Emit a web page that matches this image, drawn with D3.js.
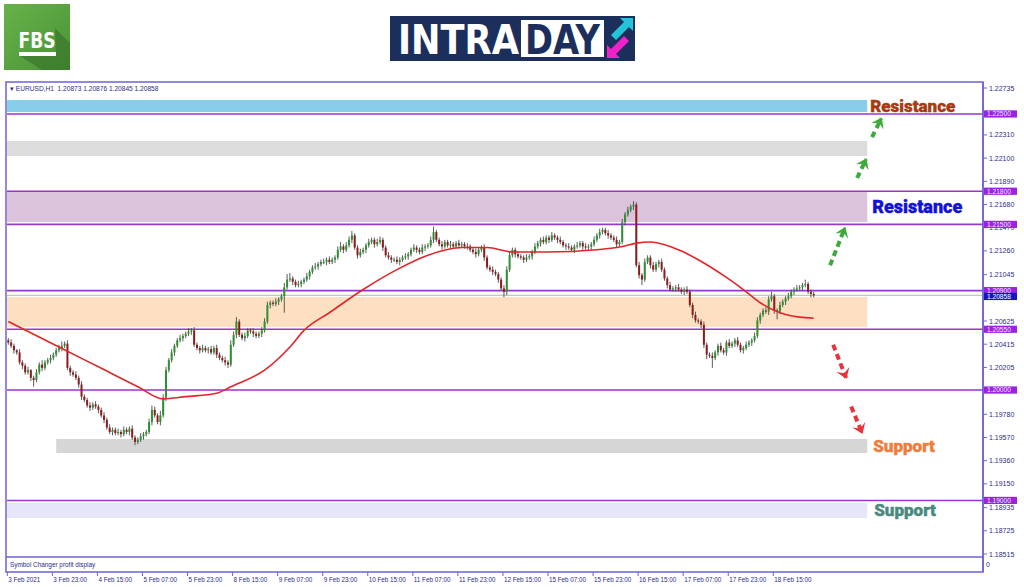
<!DOCTYPE html>
<html>
<head>
<meta charset="utf-8">
<script src="https://cdnjs.cloudflare.com/ajax/libs/d3/7.8.5/d3.min.js"></script>
<style>
  body { margin: 0; background: #fff; }
  svg { display: block; }
</style>
</head>
<body>
<div id="chart"></div>
<script>
var svgWidth = 1024;
var svgHeight = 587;

// EURUSD H1 bars, first bar 3 Feb 2021 07:00 (open = previous close)
var firstOpen = 1.2045;
var closes = [
  1.2043,1.2040,1.2036,1.2034,1.2025,1.2022,1.2016,1.2018,1.2011,1.2009,
  1.2016,1.2023,1.2020,1.2025,1.2027,1.2029,1.2032,1.2036,1.2038,1.2040,
  1.2042,1.2020,1.2016,1.2014,1.2011,1.2005,1.1994,1.1991,1.1986,1.1984,
  1.1987,1.1985,1.1982,1.1977,1.1973,1.1966,1.1962,1.1964,1.1961,1.1962,
  1.1960,1.1964,1.1962,1.1965,1.1957,1.1953,1.1955,1.1958,1.1960,1.1962,
  1.1971,1.1982,1.1977,1.1971,1.1977,1.1993,1.2018,1.2027,1.2034,1.2040,
  1.2045,1.2047,1.2049,1.2051,1.2053,1.2054,1.2041,1.2038,1.2036,1.2038,
  1.2036,1.2037,1.2034,1.2038,1.2032,1.2029,1.2027,1.2025,1.2023,1.2041,
  1.2050,1.2062,1.2050,1.2047,1.2049,1.2054,1.2053,1.2051,1.2049,1.2051,
  1.2054,1.2062,1.2077,1.2079,1.2078,1.2080,1.2082,1.2085,1.2093,1.2100,
  1.2101,1.2098,1.2095,1.2096,1.2098,1.2100,1.2103,1.2107,1.2111,1.2112,
  1.2114,1.2116,1.2116,1.2118,1.2116,1.2118,1.2120,1.2127,1.2130,1.2127,
  1.2131,1.2136,1.2140,1.2129,1.2122,1.2125,1.2127,1.2131,1.2134,1.2136,
  1.2132,1.2134,1.2136,1.2129,1.2122,1.2120,1.2118,1.2118,1.2116,1.2118,
  1.2120,1.2121,1.2123,1.2127,1.2129,1.2127,1.2125,1.2129,1.2130,1.2131,
  1.2136,1.2143,1.2136,1.2132,1.2130,1.2134,1.2131,1.2132,1.2130,1.2133,
  1.2131,1.2132,1.2130,1.2130,1.2127,1.2125,1.2123,1.2127,1.2129,1.2120,
  1.2111,1.2109,1.2107,1.2105,1.2100,1.2092,1.2089,1.2109,1.2122,1.2127,
  1.2123,1.2121,1.2120,1.2118,1.2120,1.2121,1.2125,1.2130,1.2133,1.2136,
  1.2134,1.2138,1.2136,1.2140,1.2138,1.2136,1.2134,1.2131,1.2130,1.2129,
  1.2127,1.2130,1.2131,1.2133,1.2130,1.2129,1.2130,1.2132,1.2136,1.2140,
  1.2143,1.2145,1.2142,1.2140,1.2138,1.2136,1.2132,1.2134,1.2152,1.2159,
  1.2163,1.2166,1.2168,1.2113,1.2104,1.2100,1.2116,1.2120,1.2113,1.2109,
  1.2114,1.2116,1.2109,1.2101,1.2095,1.2091,1.2092,1.2093,1.2091,1.2089,
  1.2091,1.2089,1.2077,1.2068,1.2063,1.2062,1.2059,1.2041,1.2032,1.2031,
  1.2029,1.2034,1.2040,1.2036,1.2034,1.2043,1.2040,1.2042,1.2045,1.2041,
  1.2036,1.2038,1.2041,1.2043,1.2045,1.2049,1.2063,1.2068,1.2072,1.2071,
  1.2082,1.2085,1.2072,1.2071,1.2077,1.2080,1.2083,1.2085,1.2089,1.2091,
  1.2092,1.2093,1.2095,1.2096,1.2089,1.2087,1.20858
];
// upper / lower wick length in pips
var wickUp = [
  2,3,2,1,3,2,2,3,1,2, 3,2,4,2,2,3,2,2,3,4,
  2,3,2,2,3,2,3,2,2,3, 2,3,2,2,3,2,3,2,2,3,
  2,3,2,2,3,2,2,3,2,2, 3,4,3,2,4,3,3,2,3,2,
  2,3,2,2,3,2,3,2,2,3, 2,2,3,2,3,2,2,3,2,4,
  3,4,2,2,3,2,2,3,2,2, 3,3,3,2,2,3,2,2,4,5,
  5,2,2,3,2,2,3,2,2,3, 2,2,3,2,3,2,2,3,4,2,
  3,3,4,2,2,3,2,2,3,2, 2,3,3,2,2,3,2,2,3,2,
  2,3,2,2,3,2,2,3,2,2, 3,5,2,2,3,2,2,3,2,2,
  3,2,2,3,2,2,3,2,2,3, 2,2,3,2,2,2,3,3,4,2,
  2,3,2,2,3,2,2,3,2,2, 3,2,2,3,2,2,3,2,2,3,
  2,2,3,2,2,3,2,2,3,2, 3,2,2,3,2,2,3,2,3,2,
  3,2,3,2,3,2,3,2,2,3, 2,2,3,2,2,3,2,2,3,2,
  2,3,2,2,3,2,2,3,2,2, 3,2,2,3,2,2,3,2,2,3,
  2,2,3,2,2,3,3,2,2,3, 3,4,2,2,3,2,2,3,2,2,
  3,2,2,4,2,2,2
];
var wickDown = [
  2,2,3,2,2,3,2,2,3,6, 2,2,3,2,2,3,2,2,2,3,
  2,2,3,2,2,3,3,2,2,3, 2,2,3,2,3,2,2,3,2,2,
  3,2,2,3,2,3,2,2,3,2, 2,3,2,2,3,2,3,2,2,3,
  2,2,3,2,2,3,2,2,3,2, 2,3,2,2,3,2,2,3,3,2,
  2,3,2,2,3,2,2,3,2,2, 3,2,2,3,2,2,3,2,15,2,
  2,3,2,2,3,2,2,3,2,2, 3,2,2,3,2,2,3,2,2,3,
  2,2,3,2,3,2,2,3,2,2, 3,2,2,3,2,2,3,2,2,3,
  2,2,3,2,2,3,2,2,3,2, 2,3,2,2,3,2,2,3,2,2,
  3,2,2,3,2,2,3,2,2,3, 2,2,3,2,3,2,5,3,2,2,
  3,2,2,3,2,2,3,2,2,3, 2,2,3,2,2,3,2,2,3,2,
  2,3,2,2,3,2,2,3,2,2, 3,2,2,3,2,2,3,2,2,3,
  2,2,3,2,3,5,2,2,3,2, 2,3,2,2,3,2,2,3,2,2,
  3,2,2,3,2,2,3,3,4,2, 9,2,3,2,2,3,2,2,3,2,
  2,3,2,2,3,2,2,3,2,2, 3,2,3,7,2,2,3,2,2,3,
  2,2,3,2,2,3,2
];

// red moving average at these bars
var maBars = [0, 18, 32, 46, 55, 63, 74, 79, 91, 100, 105, 114, 126, 138, 149, 161,
  170, 179, 191, 209, 218, 223, 228, 238, 245, 255, 261, 267, 274, 281, 286];
var maValues = [1.2062, 1.2039, 1.2021, 1.2003, 1.1992, 1.1994, 1.1997, 1.2003, 1.2018,
  1.2039, 1.2054, 1.2070, 1.2091, 1.2109, 1.2122, 1.2129, 1.2129, 1.2125, 1.2125, 1.2127,
  1.2130, 1.2133, 1.2134, 1.2127, 1.2118, 1.2102, 1.2091, 1.2079, 1.2070, 1.2066, 1.2065];

// time axis: one label every 16 bars
var timeLabels = ["3 Feb 2021", "3 Feb 23:00", "4 Feb 15:00", "5 Feb 07:00", "5 Feb 23:00",
  "8 Feb 15:00", "9 Feb 07:00", "9 Feb 23:00", "10 Feb 15:00", "11 Feb 07:00", "11 Feb 23:00",
  "12 Feb 15:00", "15 Feb 07:00", "15 Feb 23:00", "16 Feb 15:00", "17 Feb 07:00",
  "17 Feb 23:00", "18 Feb 15:00"];

var priceTicks = [1.22735, 1.22310, 1.22100, 1.21890, 1.21680, 1.21470, 1.21260, 1.21045,
  1.20625, 1.20415, 1.20205, 1.19780, 1.19570, 1.19360, 1.19150, 1.18935, 1.18725, 1.18515];

// horizontal levels drawn on the chart
var levels = [1.22500, 1.21800, 1.21500, 1.20900, 1.20550, 1.20000, 1.19000];
var lastPrice = 1.20858;
var headerText = "\u25BE EURUSD,H1  1.20873 1.20876 1.20845 1.20858";

// shaded zones (bar index start/end, price top/bottom)
var zoneStart = [-1, -1, -1, -1, 17, -1];
var zoneEnd = [305, 305, 305, 305, 305, 305];
var zoneTop = [1.22626, 1.22255, 1.21793, 1.20842, 1.19557, 1.18977];
var zoneBottom = [1.22518, 1.22119, 1.21522, 1.20570, 1.19430, 1.18841];
var zoneLabels = ["Resistance", "", "Resistance", "", "Support", "Support"];

// dashed scenario arrows [bar, price]
var arrowFrom = [[291.8, 1.2113], [301.4, 1.2192], [306.7, 1.2229], [292.9, 1.2041], [299.3, 1.1985]];
var arrowTo = [[297.1, 1.2147], [304.6, 1.2209], [310.0, 1.2246], [297.5, 1.2011], [303.2, 1.1961]];
var arrowUp = [true, true, true, false, false];

// styles
var zoneColors = ["#87ceeb", "#dcdcdc", "#dcc3dc", "#fde0c2", "#d6d6d6", "#e6e6fa"];
var zoneLabelColors = ["#a63a12", "", "#1212d4", "", "#f07d3c", "#4a8a7e"];
var zoneLabelDx = [3, 0, 5, 0, 6, 7];
var frameColor = "#6d62d6";
var textColor = "#2c2c8c";
var plot = { left: 7, right: 983, top: 83, bottom: 556 };

var svg = d3.select("#chart")
  .append("svg")
  .attr("width", svgWidth)
  .attr("height", svgHeight);

var defs = svg.append("defs");

var xScale = d3.scaleLinear().domain([0, 272]).range([8.3, 774.3]);
var yScale = d3.scaleLinear().domain([1.18515, 1.22735]).range([554, 88]);

defs.append("clipPath").attr("id", "plotClip")
  .append("rect")
  .attr("x", plot.left).attr("y", plot.top)
  .attr("width", plot.right - plot.left).attr("height", plot.bottom - plot.top);

// ---------- logos ----------
var grad = defs.append("linearGradient")
  .attr("id", "fbsGrad").attr("x1", 0).attr("y1", 0).attr("x2", 1).attr("y2", 1);
grad.append("stop").attr("offset", "0%").attr("stop-color", "#68b24a");
grad.append("stop").attr("offset", "100%").attr("stop-color", "#4a9236");

var fbs = svg.append("g");
fbs.append("rect").attr("x", 4).attr("y", 4).attr("width", 66).attr("height", 66)
  .attr("fill", "url(#fbsGrad)");
fbs.append("path")
  .attr("d", "M55,28 L70,43 L70,70 L42,70 L20,56 L56,56 Z")
  .attr("fill", "#3b7a2c").attr("opacity", 0.75);
fbs.append("text").attr("x", 37).attr("y", 48)
  .attr("text-anchor", "middle")
  .attr("font-family", "DejaVu Sans Condensed, DejaVu Sans")
  .attr("font-weight", "bold").attr("font-size", 22)
  .attr("textLength", 37).attr("lengthAdjust", "spacingAndGlyphs")
  .attr("fill", "#fff").text("FBS");
fbs.append("rect").attr("x", 19).attr("y", 52).attr("width", 37).attr("height", 4)
  .attr("fill", "#fff");

var intra = svg.append("g");
intra.append("rect").attr("x", 390).attr("y", 16).attr("width", 245).attr("height", 45)
  .attr("fill", "#1c2e5c");
intra.append("text").attr("x", 398).attr("y", 54)
  .attr("font-family", "DejaVu Sans Condensed, DejaVu Sans")
  .attr("font-weight", "bold").attr("font-size", 40)
  .attr("textLength", 121).attr("lengthAdjust", "spacingAndGlyphs")
  .attr("fill", "#fff").text("INTRA");
intra.append("rect").attr("x", 521).attr("y", 20).attr("width", 83).attr("height", 37)
  .attr("fill", "#fff");
intra.append("text").attr("x", 525).attr("y", 54)
  .attr("font-family", "DejaVu Sans Condensed, DejaVu Sans")
  .attr("font-weight", "bold").attr("font-size", 40)
  .attr("textLength", 75).attr("lengthAdjust", "spacingAndGlyphs")
  .attr("fill", "#1c2e5c").text("DAY");
// cyan arrow up-right, magenta arrow down-left
intra.append("path")
  .attr("d", "M633,18 L633,31 L629,27 L616,40 L611,35 L624,22 L620,18 Z")
  .attr("fill", "#22c6d8");
intra.append("path")
  .attr("d", "M607,58 L607,45 L611,49 L624,36 L629,41 L616,54 L620,58 Z")
  .attr("fill", "#ee22c6");

// ---------- chart frame ----------
svg.append("rect")
  .attr("x", 6).attr("y", 82).attr("width", 977).attr("height", 490)
  .attr("fill", "#fff").attr("stroke", frameColor).attr("stroke-width", 1.5);

var chartGroup = svg.append("g").attr("clip-path", "url(#plotClip)");

// zones
chartGroup.selectAll("rect.zone")
  .data(zoneTop)
  .enter()
  .append("rect")
  .attr("class", "zone")
  .attr("x", (d, i) => xScale(zoneStart[i]))
  .attr("y", d => yScale(d))
  .attr("width", (d, i) => xScale(zoneEnd[i]) - xScale(zoneStart[i]))
  .attr("height", (d, i) => yScale(zoneBottom[i]) - yScale(d))
  .attr("fill", (d, i) => zoneColors[i]);

// last price line
chartGroup.append("line")
  .attr("x1", plot.left).attr("x2", plot.right)
  .attr("y1", yScale(lastPrice)).attr("y2", yScale(lastPrice))
  .attr("stroke", "#b4b4b4").attr("stroke-width", 1);

// level lines
chartGroup.selectAll("line.level")
  .data(levels)
  .enter()
  .append("line")
  .attr("class", "level")
  .attr("x1", plot.left).attr("x2", plot.right)
  .attr("y1", d => yScale(d)).attr("y2", d => yScale(d))
  .attr("stroke", "#9b35d0").attr("stroke-width", 1.6);

// build candles
var candles = closes.map(function(c, i) {
  var o = i === 0 ? firstOpen : closes[i - 1];
  return {
    i: i, open: o, close: c,
    high: Math.max(o, c) + wickUp[i] * 0.0001,
    low: Math.min(o, c) - wickDown[i] * 0.0001
  };
});

chartGroup.selectAll("line.wick")
  .data(candles)
  .enter()
  .append("line")
  .attr("class", "wick")
  .attr("x1", d => xScale(d.i)).attr("x2", d => xScale(d.i))
  .attr("y1", d => yScale(d.high)).attr("y2", d => yScale(d.low))
  .attr("stroke", "#4a4a4a").attr("stroke-width", 0.9);

chartGroup.selectAll("rect.body")
  .data(candles)
  .enter()
  .append("rect")
  .attr("class", "body")
  .attr("x", d => xScale(d.i) - 1)
  .attr("y", d => yScale(Math.max(d.open, d.close)))
  .attr("width", 2)
  .attr("height", d => Math.max(1, Math.abs(yScale(d.open) - yScale(d.close))))
  .attr("fill", d => d.close >= d.open ? "#2f8f34" : "#8c1c1c");

// moving average
var maLine = d3.line()
  .x(d => xScale(d))
  .y((d, i) => yScale(maValues[i]))
  .curve(d3.curveMonotoneX);

chartGroup.append("path")
  .datum(maBars)
  .attr("d", maLine)
  .attr("fill", "none")
  .attr("stroke", "#e0262a")
  .attr("stroke-width", 1.6);

// zone labels
zoneLabels.forEach(function(label, i) {
  if (label === "") return;
  svg.append("text")
    .attr("x", xScale(zoneEnd[i]) + zoneLabelDx[i])
    .attr("y", (yScale(zoneTop[i]) + yScale(zoneBottom[i])) / 2 + 6)
    .attr("font-family", "Roboto, Lato, sans-serif")
    .attr("font-weight", 900)
    .attr("font-size", i === 2 ? 18 : 17)
    .attr("fill", zoneLabelColors[i])
    .attr("stroke", zoneLabelColors[i])
    .attr("stroke-width", 0.4)
    .text(label);
});

// arrows
["#3cab3c", "#e8323c"].forEach(function(c, k) {
  defs.append("marker")
    .attr("id", "head" + k)
    .attr("markerUnits", "userSpaceOnUse")
    .attr("viewBox", "-12 -8 14 16")
    .attr("markerWidth", 14).attr("markerHeight", 16)
    .attr("refX", 0).attr("refY", 0)
    .attr("orient", "auto")
    .append("path")
    .attr("d", "M1,0 L-9,-7 L-5,0 L-9,7 Z")
    .attr("fill", c);
});
svg.selectAll("line.arrow")
  .data(arrowFrom)
  .enter()
  .append("line")
  .attr("class", "arrow")
  .attr("x1", d => xScale(d[0])).attr("y1", d => yScale(d[1]))
  .attr("x2", (d, i) => xScale(arrowTo[i][0])).attr("y2", (d, i) => yScale(arrowTo[i][1]))
  .attr("stroke", (d, i) => arrowUp[i] ? "#3cab3c" : "#e8323c")
  .attr("stroke-width", 4)
  .attr("stroke-dasharray", "6,4")
  .attr("marker-end", (d, i) => arrowUp[i] ? "url(#head0)" : "url(#head1)");

// header and sub window
svg.append("text").attr("x", 10).attr("y", 91)
  .attr("font-family", "Liberation Sans, Arial, sans-serif")
  .attr("font-size", 6.6).attr("fill", textColor)
  .attr("xml:space", "preserve")
  .text(headerText);

svg.append("line")
  .attr("x1", 6).attr("x2", 983).attr("y1", 557).attr("y2", 557)
  .attr("stroke", frameColor).attr("stroke-width", 1.5);
svg.append("text").attr("x", 10).attr("y", 567)
  .attr("font-family", "Liberation Sans, Arial, sans-serif")
  .attr("font-size", 6.4).attr("fill", textColor)
  .text("Symbol Changer profit display");

// right price axis
svg.append("line")
  .attr("x1", plot.right).attr("x2", plot.right).attr("y1", 82).attr("y2", 572)
  .attr("stroke", frameColor).attr("stroke-width", 1.5);

var priceAxis = svg.append("g");
priceAxis.selectAll("line")
  .data(priceTicks)
  .enter()
  .append("line")
  .attr("x1", plot.right).attr("x2", plot.right + 4)
  .attr("y1", d => yScale(d)).attr("y2", d => yScale(d))
  .attr("stroke", frameColor);
priceAxis.selectAll("text")
  .data(priceTicks)
  .enter()
  .append("text")
  .attr("x", plot.right + 6)
  .attr("y", d => yScale(d) + 2.5)
  .attr("font-family", "Liberation Sans, Arial, sans-serif")
  .attr("font-size", 7).attr("fill", textColor)
  .text(d => d.toFixed(5));

svg.append("text").attr("x", 986).attr("y", 567)
  .attr("font-family", "Liberation Sans, Arial, sans-serif")
  .attr("font-size", 7).attr("fill", textColor).text("0");

// level price tags (last price tag sits just under the 1.20900 tag)
var tags = svg.append("g");
levels.concat([lastPrice]).forEach(function(p, i) {
  var isLast = i === levels.length;
  var cy = yScale(p) + (isLast ? 1.2 : 0);
  tags.append("rect")
    .attr("x", plot.right + 1).attr("y", cy - 3.6)
    .attr("width", 33).attr("height", 7.2)
    .attr("fill", isLast ? "#1616c8" : "#9a22e0");
  tags.append("text")
    .attr("x", plot.right + 4).attr("y", cy + 2.3)
    .attr("font-family", "Liberation Sans, Arial, sans-serif")
    .attr("font-size", 6.6).attr("fill", isLast ? "#ffffff" : "#f3e6ff")
    .text(p.toFixed(5));
});

// time axis
var timeAxis = svg.append("g");
timeAxis.selectAll("line")
  .data(timeLabels)
  .enter()
  .append("line")
  .attr("x1", (d, k) => xScale(k * 16) - 1).attr("x2", (d, k) => xScale(k * 16) - 1)
  .attr("y1", 572).attr("y2", 576)
  .attr("stroke", frameColor);
timeAxis.selectAll("text")
  .data(timeLabels)
  .enter()
  .append("text")
  .attr("x", (d, k) => xScale(k * 16))
  .attr("y", 582)
  .attr("font-family", "Liberation Sans, Arial, sans-serif")
  .attr("font-size", 6.3).attr("fill", textColor)
  .text(d => d);
</script>
</body>
</html>
